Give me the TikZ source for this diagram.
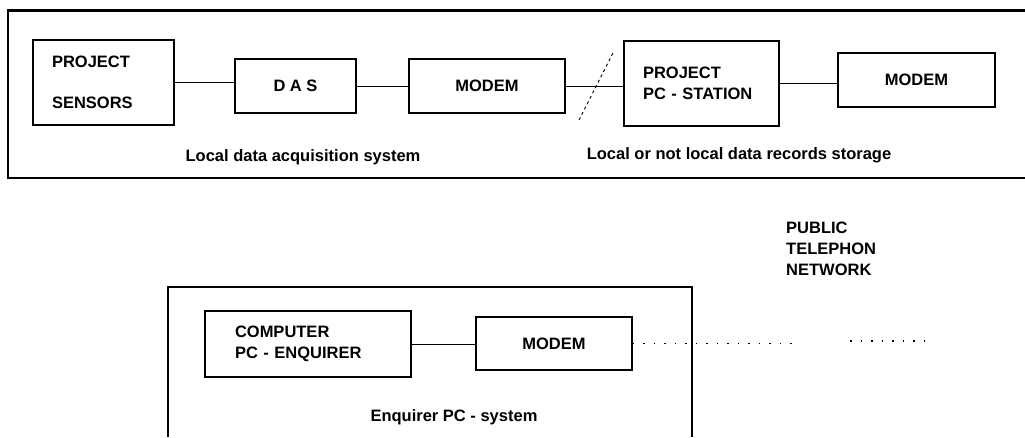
\documentclass[tikz,border=0pt]{standalone}
\usepackage{fontspec}
\setmainfont{Liberation Sans}
\tikzset{
  unit/.style={draw, line width=1.1pt, font=\bfseries\fontsize{16.5}{21.5}\selectfont, inner sep=0pt},
  lefttext/.style={unit, align=left, inner xsep=19pt},
  caption/.style={font=\bfseries\fontsize{16.5}{21}\selectfont, inner sep=0pt},
  frame/.style={line width=2.6pt},
  wire/.style={line width=0.9pt},
  phone/.style={line width=1.1pt, dash pattern=on 1.5pt off 9pt}
}
\begin{document}
\begin{tikzpicture}[x=1pt,y=-1pt]
\useasboundingbox (0,0) rectangle (1025,437);
\draw[frame] (1025,10.5) -- (8,10.5) -- (8,178) -- (1025,178);
\draw[frame] (168,437) -- (168,287) -- (692,287) -- (692,437);
\node[lefttext, minimum width=141pt, minimum height=85pt, text width=103pt] (sensors) at (103.5,82.5) {PROJECT\\[20pt]SENSORS};
\node[unit, minimum width=121pt, minimum height=54pt] (das) at (295.5,86) {D A S};
\node[unit, minimum width=156pt, minimum height=54pt] (modemA) at (487,86) {MODEM};
\node[lefttext, minimum width=155pt, minimum height=85pt, text width=117pt] (station) at (701.5,83.5) {PROJECT\\PC - STATION};
\node[unit, minimum width=157pt, minimum height=54pt] (modemB) at (916.5,80) {MODEM};
\node[caption] (acq) at (303,157) {Local data acquisition system};
\node[caption] (storage) at (739,155) {Local or not local data records storage};
\draw[wire, dashed] (579,120) -- (613,53);
\draw[wire] (sensors.east) -- (sensors.east -| das.west);
\draw[wire] (das.east) -- (das.east -| modemA.west);
\draw[wire] (modemA.east) -- (modemA.east -| station.west);
\draw[wire] (station.east) -- (station.east -| modemB.west);
\node[caption, align=left, anchor=north west] (network) at (786,222) {PUBLIC\\TELEPHON\\NETWORK};
\node[unit, align=left, inner xsep=30pt, minimum width=206pt, minimum height=66pt, text width=146pt] (enquirer) at (308,344) {COMPUTER\\PC - ENQUIRER};
\node[unit, minimum width=156pt, minimum height=53pt] (modemC) at (554,343.5) {MODEM};
\node[caption] (system) at (454,417) {Enquirer PC - system};
\coordinate (gapA) at (792,341);
\coordinate (gapB) at (850,341);
\coordinate (lineend) at (925,341);
\draw[wire] (enquirer.east) -- (enquirer.east -| modemC.west);
\draw[phone] (modemC.east) -- (modemC.east -| gapA);
\draw[phone] (gapB) -- (lineend);
\end{tikzpicture}
\end{document}
